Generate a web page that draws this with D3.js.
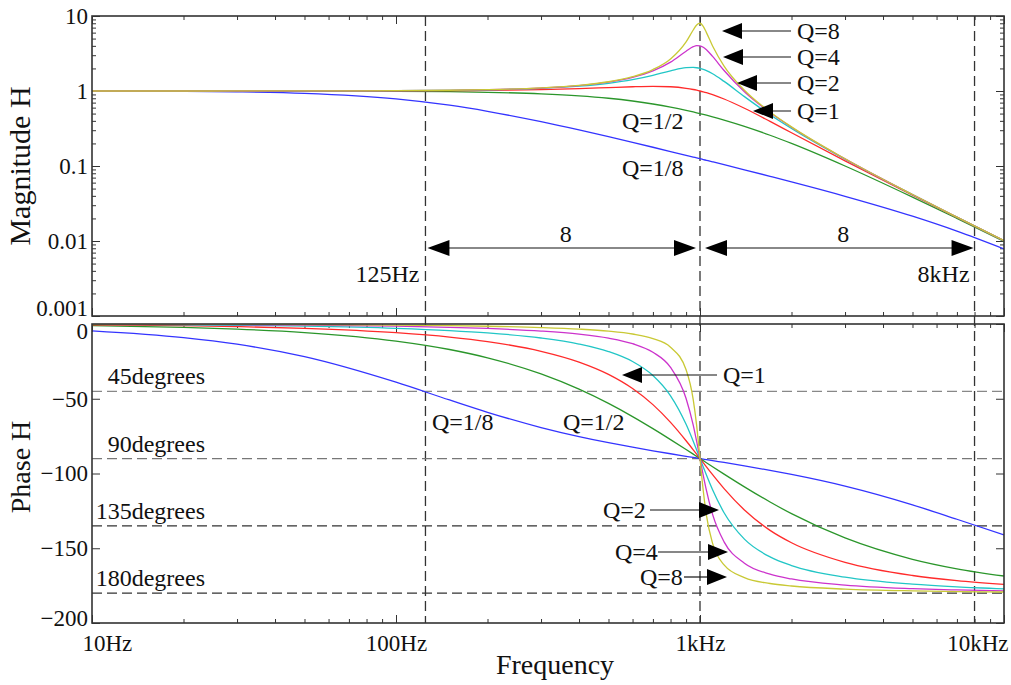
<!DOCTYPE html>
<html>
<head>
<meta charset="utf-8">
<title>Second order lowpass - magnitude and phase</title>
<script src="https://d3js.org/d3.v7.min.js"></script>
<style>
body { margin: 0; background: #fff; }
svg { display: block; }
text { font-family: "Liberation Serif", "Times New Roman", serif; fill: #111; }
.tick line { stroke: #333; }
</style>
</head>
<body>
<script>
// frequencies (Hz) the curves were read at
var freqs = [10, 20, 30, 50, 100, 150, 200, 300, 400, 500, 600, 700, 800, 900, 950, 975,
             1000, 1025, 1050, 1100, 1200, 1400, 1700, 2000, 3000, 5000, 7000, 10000];

var qLabels = ["Q=1/8", "Q=1/2", "Q=1", "Q=2", "Q=4", "Q=8"];

// magnitude |H|
var magQ1_8 = [0.9969, 0.9878, 0.9732, 0.9305, 0.7857, 0.6461, 0.5359, 0.3896, 0.3023, 0.2457, 0.2065, 0.1778, 0.1560, 0.1388,
               0.1316, 0.1282, 0.125, 0.1219, 0.1190, 0.1136, 0.1041, 0.0890, 0.0728, 0.0614, 0.0395, 0.02144, 0.01356, 0.00786];
var magQ1_2 = [0.9999, 0.9996, 0.9991, 0.9975, 0.9901, 0.9780, 0.9615, 0.9174, 0.8621, 0.8, 0.7353, 0.6711, 0.6098, 0.5525,
               0.5256, 0.5127, 0.5, 0.4877, 0.4756, 0.4525, 0.4098, 0.3378, 0.2571, 0.2, 0.1, 0.03846, 0.02, 0.009901];
var magQ1   = [1.0, 1.0002, 1.0005, 1.0012, 1.005, 1.0112, 1.0198, 1.0436, 1.0748, 1.1094, 1.1399, 1.1546, 1.1399, 1.0871,
               1.0471, 1.0243, 1.0, 0.9744, 0.9479, 0.8930, 0.7824, 0.5891, 0.3934, 0.2774, 0.1170, 0.04079, 0.02062, 0.01005];
var magQ2   = [1.0001, 1.0004, 1.0008, 1.0022, 1.0088, 1.0200, 1.0361, 1.0843, 1.1581, 1.2649, 1.4148, 1.6167, 1.8582, 2.0472,
               2.0623, 2.0408, 2.0, 1.9418, 1.8695, 1.6986, 1.3440, 0.8417, 0.4825, 0.3162, 0.1229, 0.04144, 0.02078, 0.01009];
var magQ4   = [1.0001, 1.0004, 1.0009, 1.0024, 1.0098, 1.0223, 1.0403, 1.0952, 1.1821, 1.3152, 1.5213, 1.8546, 2.4282, 3.3957,
               3.8951, 4.0209, 4.0, 3.8285, 3.5486, 2.8901, 1.8778, 0.9787, 0.5162, 0.3288, 0.1245, 0.04161, 0.02082, 0.01010];
var magQ8   = [1.0001, 1.0004, 1.0009, 1.0025, 1.0100, 1.0228, 1.0413, 1.0980, 1.1884, 1.3287, 1.5519, 1.9325, 2.6764, 4.5288,
               6.5083, 7.6048, 8.0, 7.2588, 6.0049, 3.9839, 2.1512, 1.0248, 0.5258, 0.3322, 0.1249, 0.04165, 0.02083, 0.01010];

// phase (degrees)
var phQ1_8 = [-4.57, -9.09, -13.51, -21.85, -38.94, -50.83, -59.04, -69.24, -75.29, -79.38, -82.41, -84.80, -86.78, -88.49,
              -89.27, -89.64, -90, -90.35, -90.70, -91.37, -92.62, -94.90, -97.91, -100.62, -108.43, -120.96, -130.60, -141.06];
var phQ1_2 = [-1.15, -2.29, -3.44, -5.72, -11.42, -17.06, -22.62, -33.40, -43.60, -53.13, -61.93, -70.0, -77.32, -83.97,
              -87.06, -88.55, -90, -91.41, -92.79, -95.45, -100.39, -108.92, -119.07, -126.87, -143.13, -157.38, -163.74, -168.58];
var phQ1   = [-0.57, -1.15, -1.72, -2.87, -5.77, -8.72, -11.77, -18.25, -25.46, -33.69, -43.15, -53.92, -65.77, -78.08,
              -84.14, -87.10, -90, -92.83, -95.58, -100.81, -110.14, -124.44, -138.03, -146.31, -159.44, -168.23, -171.70, -174.23];
var phQ2   = [-0.29, -0.57, -0.86, -1.44, -2.89, -4.39, -5.95, -9.36, -13.39, -18.43, -25.11, -34.46, -48.01, -67.11,
              -78.40, -84.22, -90, -95.64, -101.05, -110.90, -126.25, -143.90, -155.79, -161.57, -169.38, -174.05, -175.83, -177.11];
var phQ4   = [-0.14, -0.29, -0.43, -0.72, -1.45, -2.20, -2.98, -4.71, -6.79, -9.46, -13.19, -18.94, -29.05, -49.82,
              -67.68, -78.55, -90, -101.18, -111.33, -127.37, -145.71, -159.97, -167.33, -170.54, -174.64, -177.02, -177.91, -178.55];
var phQ8   = [-0.07, -0.14, -0.21, -0.36, -0.72, -1.10, -1.49, -2.36, -3.41, -4.76, -6.68, -9.74, -15.52, -30.63,
              -50.61, -67.95, -90, -111.56, -127.99, -146.78, -161.18, -169.67, -173.58, -175.24, -177.32, -178.51, -178.96, -179.28];

// axis ticks and marker lines
var xTickValues = [10, 100, 1000, 10000];
var xTickLabels = ["10Hz", "100Hz", "1kHz", "10kHz"];
var magTickValues = [0.001, 0.01, 0.1, 1, 10];
var magTickLabels = ["0.001", "0.01", "0.1", "1", "10"];
var phTickValues = [-200, -150, -100, -50, 0];
var markerFreqs = [125, 1000, 8000];
var degreeLines = [-45, -90, -135, -180];
var degreeLabels = ["45degrees", "90degrees", "135degrees", "180degrees"];

var colors = ["#3434ff", "#2b962b", "#ff2b2b", "#22c6c6", "#cc33cc", "#c9c935"];
var degreeColors = ["#888", "#777", "#333", "#333"];

var mags = [magQ1_8, magQ1_2, magQ1, magQ2, magQ4, magQ8];
var phases = [phQ1_8, phQ1_2, phQ1, phQ2, phQ4, phQ8];
var series = qLabels.map(function(q, i) {
  return {
    label: q,
    mag: freqs.map(function(f, j) { return [f, mags[i][j]]; }),
    phase: freqs.map(function(f, j) { return [f, phases[i][j]]; })
  };
});

var width = 1011, height = 685;
var left = 92, right = 1004;
var magTop = 16, magBottom = 316, phTop = 324, phBottom = 623;

var svg = d3.select("body").append("svg")
  .attr("width", width)
  .attr("height", height);

var x = d3.scaleLog().domain([10, 10000]).range([left, right]);
var yMag = d3.scaleLog().domain([0.001, 10]).range([magBottom, magTop]);
var yPh = d3.scaleLinear().domain([-200, 0]).range([phBottom, phTop]);

var minorX = [];
[10, 100, 1000].forEach(function(d) { for (var k = 2; k < 10; k++) minorX.push(d * k); });
var minorMag = [];
[0.001, 0.01, 0.1, 1].forEach(function(d) { for (var k = 2; k < 10; k++) minorMag.push(d * k); });

var defs = svg.append("defs");
defs.append("clipPath").attr("id", "clipMag").append("rect")
  .attr("x", left).attr("y", magTop).attr("width", right - left).attr("height", magBottom - magTop);
defs.append("clipPath").attr("id", "clipPh").append("rect")
  .attr("x", left).attr("y", phTop).attr("width", right - left).attr("height", phBottom - phTop);

// tick helper: strips the domain path
function ticks(axis, tx, ty) {
  var g = svg.append("g").attr("transform", "translate(" + tx + "," + ty + ")").call(axis);
  g.select(".domain").remove();
  g.selectAll("text").style("font-family", "Liberation Serif").style("font-size", "23px").attr("fill", "#111");
  return g;
}

// x ticks on every horizontal edge, pointing inward
[[magTop, 1], [magBottom, -1], [phTop, 1]].forEach(function(e) {
  var ax = e[1] > 0 ? d3.axisBottom(x) : d3.axisTop(x);
  ticks(ax.tickValues(xTickValues).tickSize(8).tickFormat(""), 0, e[0]);
  ax = e[1] > 0 ? d3.axisBottom(x) : d3.axisTop(x);
  ticks(ax.tickValues(minorX).tickSize(4).tickFormat(""), 0, e[0]);
});
var xg = ticks(d3.axisBottom(x).tickValues(xTickValues).tickSize(-8).tickPadding(12)
  .tickFormat(function(d, i) { return xTickLabels[i]; }), 0, phBottom);
ticks(d3.axisBottom(x).tickValues(minorX).tickSize(-4).tickFormat(""), 0, phBottom);
xg.selectAll("text").filter(function(d, i) { return i === 0; }).attr("text-anchor", "start").attr("x", -10);
xg.selectAll("text").filter(function(d, i) { return i === 3; }).attr("text-anchor", "end").attr("x", 4);

// magnitude y ticks
var mg = ticks(d3.axisLeft(yMag).tickValues(magTickValues).tickSize(-8).tickPadding(4)
  .tickFormat(function(d, i) { return magTickLabels[i]; }), left, 0);
mg.selectAll("text").filter(function(d, i) { return i === 0; }).attr("y", -8);
ticks(d3.axisLeft(yMag).tickValues(minorMag).tickSize(-4).tickFormat(""), left, 0);
ticks(d3.axisRight(yMag).tickValues(magTickValues).tickSize(-8).tickFormat(""), right, 0);
ticks(d3.axisRight(yMag).tickValues(minorMag).tickSize(-4).tickFormat(""), right, 0);

// phase y ticks
var pg = ticks(d3.axisLeft(yPh).tickValues(phTickValues).tickSize(-8).tickPadding(4)
  .tickFormat(d3.format("d")), left, 0);
pg.selectAll("text").filter(function(d) { return d === 0; }).attr("y", 7);
pg.selectAll("text").filter(function(d) { return d === -200; }).attr("y", -5);
ticks(d3.axisRight(yPh).tickValues(phTickValues).tickSize(-8).tickFormat(""), right, 0);

// dashed marker lines
svg.append("g").selectAll("line").data(markerFreqs).join("line")
  .attr("x1", function(d) { return x(d); }).attr("x2", function(d) { return x(d); })
  .attr("y1", magTop).attr("y2", phBottom)
  .attr("stroke", "#333").attr("stroke-width", 1.3).attr("stroke-dasharray", "10,5");

svg.append("g").selectAll("line").data(degreeLines).join("line")
  .attr("x1", left).attr("x2", right)
  .attr("y1", function(d) { return yPh(d); }).attr("y2", function(d) { return yPh(d); })
  .attr("stroke", function(d, i) { return degreeColors[i]; })
  .attr("stroke-width", 1.3).attr("stroke-dasharray", "10,5");

svg.append("g").selectAll("text").data(degreeLines).join("text")
  .attr("x", 205).attr("y", function(d) { return yPh(d) - 7; })
  .attr("text-anchor", "end").style("font-size", "24px")
  .text(function(d, i) { return degreeLabels[i]; });

// curves
var magLine = d3.line().x(function(d) { return x(d[0]); }).y(function(d) { return yMag(d[1]); }).curve(d3.curveMonotoneX);
var phLine = d3.line().x(function(d) { return x(d[0]); }).y(function(d) { return yPh(d[1]); }).curve(d3.curveMonotoneX);

svg.append("g").attr("clip-path", "url(#clipMag)").selectAll("path").data(series).join("path")
  .attr("d", function(d) { return magLine(d.mag); })
  .attr("fill", "none").attr("stroke-width", 1.3)
  .attr("stroke", function(d, i) { return colors[i]; });

svg.append("g").attr("clip-path", "url(#clipPh)").selectAll("path").data(series).join("path")
  .attr("d", function(d) { return phLine(d.phase); })
  .attr("fill", "none").attr("stroke-width", 1.3)
  .attr("stroke", function(d, i) { return colors[i]; });

// panel frames
[[magTop, magBottom], [phTop, phBottom]].forEach(function(p) {
  svg.append("rect").attr("x", left).attr("y", p[0]).attr("width", right - left).attr("height", p[1] - p[0])
    .attr("fill", "none").attr("stroke", "#333").attr("stroke-width", 1.6);
});

// annotations
function head(tipX, tipY, dir, len, half) {
  var b = tipX + dir * len;
  svg.append("path")
    .attr("d", "M" + tipX + "," + tipY + "L" + b + "," + (tipY - half) + "L" + b + "," + (tipY + half) + "Z")
    .attr("fill", "#000");
}
function label(txt, lx, ly, anchor) {
  svg.append("text").attr("x", lx).attr("y", ly).attr("text-anchor", anchor || "start")
    .style("font-size", "24px").text(txt);
}
function seg(x1, y1, x2, y2, col, w) {
  svg.append("line").attr("x1", x1).attr("y1", y1).attr("x2", x2).attr("y2", y2)
    .attr("stroke", col).attr("stroke-width", w);
}

// magnitude panel pointers
[["Q=8", 722, 31], ["Q=4", 723, 57], ["Q=2", 737, 83], ["Q=1", 753, 111]].forEach(function(a) {
  seg(a[1] + 15, a[2], 791, a[2], "#888", 2);
  head(a[1], a[2], 1, 20, 8);
  label(a[0], 797, a[2] + 8);
});
label("Q=1/2", 622, 129);
label("Q=1/8", 622, 176);

// the two 8x spans
var spanY = 248;
[[x(125) + 2, x(1000) - 4], [x(1000) + 5, x(8000) - 1]].forEach(function(s) {
  seg(s[0] + 15, spanY, s[1] - 15, spanY, "#888", 2);
  head(s[0], spanY, 1, 22, 8);
  head(s[1], spanY, -1, 22, 8);
  label("8", (s[0] + s[1]) / 2 + 4, spanY - 6, "middle");
});
label("125Hz", x(125) - 6, 282, "end");
label("8kHz", x(8000) - 5, 282, "end");

// phase panel pointers
seg(638, 375, 717, 375, "#111", 1.2);
head(622, 375, 1, 20, 8);
label("Q=1", 723, 383);
[["Q=2", 603, 510, 650, 719], ["Q=4", 615, 552, 658, 728], ["Q=8", 640, 577, 684, 727]].forEach(function(a) {
  seg(a[3], a[2], a[4] - 16, a[2], "#111", 1.2);
  head(a[4], a[2], -1, 20, 8);
  label(a[0], a[1], a[2] + 8);
});
label("Q=1/8", 432, 430);
label("Q=1/2", 563, 430);

// axis titles
svg.append("text").attr("transform", "translate(30,166) rotate(-90)")
  .attr("text-anchor", "middle").style("font-size", "30px").text("Magnitude H");
svg.append("text").attr("transform", "translate(30,467) rotate(-90)")
  .attr("text-anchor", "middle").style("font-size", "28px").text("Phase H");
svg.append("text").attr("x", 555).attr("y", 674)
  .attr("text-anchor", "middle").style("font-size", "28px").text("Frequency");
</script>
</body>
</html>
